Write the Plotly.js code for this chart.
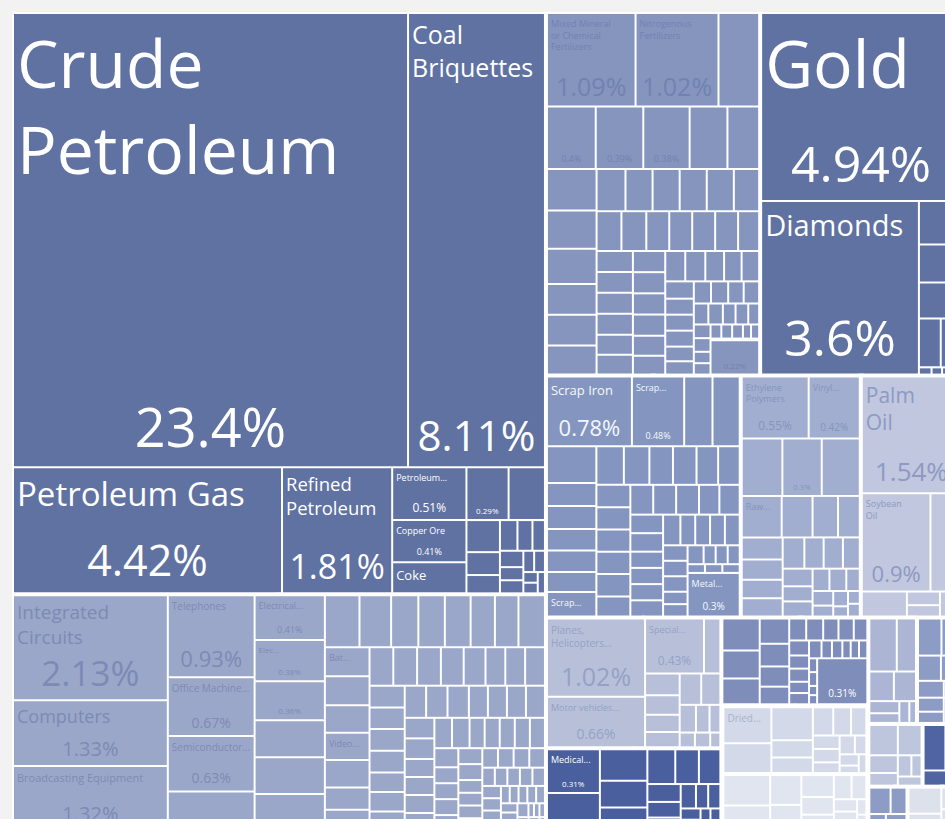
<!DOCTYPE html>
<html>
<head>
<meta charset="utf-8">
<script src="https://cdn.plot.ly/plotly-3.0.1.min.js"></script>
<style>
html,body{margin:0;padding:0;background:#f2f2f2;overflow:hidden;width:945px;height:819px;}
#chart{position:absolute;left:0;top:0;width:962px;height:832px;}
</style>
</head>
<body>
<div id="chart"></div>
<script>
// ---------- DATA (share of exports, %) ----------
const mineralLabels = {0:"Crude<br>Petroleum",1:"Coal<br>Briquettes",2:"Petroleum Gas",3:"Refined<br>Petroleum",4:"Petroleum...",5:"Copper Ore",6:"Coke"};
const mineralValues = [23.4, 8.11, 4.42, 1.81, 0.51, 0.41, 0.3, 0.29, 0.25, 0.14, 0.1, 0.08, 0.07, 0.06, 0.05, 0.05, 0.04, 0.04, 0.03, 0.03, 0.02, 0.02, 0.02];
const mineralPct = [0,1,2,3,4,5,7];

const machinesLabels = {0:"Integrated<br>Circuits",1:"Computers",2:"Broadcasting Equipment",3:"Telephones",4:"Office Machine...",5:"Semiconductor...",7:"Electrical...",8:"Elec...",21:"Bat...",24:"Video..."};
const machinesValues = [2.13, 1.33, 1.32, 0.93, 0.67, 0.63, 0.45, 0.41, 0.38, 0.36, 0.34, 0.34, 0.34,
  0.235, 0.215, 0.185, 0.18, 0.175, 0.165, 0.16, 0.18, 0.17, 0.17, 0.16, 0.16, 0.16,
  0.13, 0.125, 0.12, 0.12, 0.12, 0.115, 0.11,
  0.1, 0.1, 0.1, 0.1, 0.1, 0.1, 0.1, 0.09, 0.09, 0.09, 0.09, 0.09, 0.09,
  0.08, 0.08, 0.08, 0.08, 0.08, 0.08, 0.07, 0.07, 0.07, 0.07, 0.07, 0.07,
  0.06, 0.06, 0.06, 0.06, 0.06, 0.06, 0.05, 0.05, 0.05, 0.05, 0.05, 0.05,
  0.04, 0.04, 0.04, 0.04, 0.04, 0.04, 0.04, 0.04, 0.03, 0.03, 0.03, 0.03, 0.03, 0.03, 0.03, 0.03,
  0.02, 0.02, 0.02, 0.02, 0.02, 0.02, 0.02, 0.02, 0.02, 0.02, 0.01, 0.01, 0.01, 0.01, 0.01, 0.01, 0.01, 0.01];
const machinesPct = [0,1,2,3,4,5,7,8,9];

const chemicalsLabels = {0:"Mixed Mineral<br>or Chemical<br>Fertilizers",1:"Nitrogenous<br>Fertilizers"};
const chemicalsValues = [1.09, 1.02, 0.5, 0.4, 0.39, 0.38, 0.31, 0.26,
  0.27, 0.25, 0.23, 0.2, 0.2, 0.19, 0.16, 0.15, 0.15, 0.15, 0.15, 0.14,
  0.13, 0.13, 0.12, 0.12, 0.12, 0.12, 0.11, 0.1, 0.1, 0.1, 0.1, 0.095, 0.095, 0.09, 0.09, 0.09, 0.09, 0.085,
  0.08, 0.08, 0.08, 0.075, 0.07, 0.07, 0.065, 0.06, 0.06, 0.06, 0.055, 0.05, 0.05, 0.05,
  0.045, 0.045, 0.04, 0.04, 0.035, 0.035, 0.03, 0.03, 0.03, 0.025, 0.025, 0.02, 0.02, 0.02, 0.015, 0.015, 0.01, 0.22];
const chemicalsPct = [0,1,3,4,5,69];

const preciousLabels = {0:"Gold",1:"Diamonds"};
const preciousValues = [4.94, 3.6, 0.24, 0.21, 0.2, 0.14, 0.13, 0.012, 0.01, 0.01, 0.008];
const preciousPct = [0,1];

const metalsLabels = {0:"Scrap Iron",1:"Scrap...",10:"Scrap...",51:"Metal..."};
const metalsValues = [0.78, 0.48, 0.26, 0.25, 0.24, 0.15, 0.15, 0.14, 0.14, 0.13, 0.16, 0.14, 0.13, 0.12, 0.12, 0.11, 0.11,
  0.1, 0.1, 0.1, 0.1, 0.1, 0.09, 0.09, 0.09, 0.09, 0.08, 0.08, 0.08, 0.08, 0.07, 0.07, 0.07, 0.07, 0.07,
  0.06, 0.06, 0.06, 0.06, 0.05, 0.05, 0.05, 0.04, 0.04, 0.04, 0.03, 0.03, 0.03, 0.02, 0.02, 0.02, 0.3];
const metalsPct = [0,1,51];

const plasticsLabels = {0:"Ethylene<br>Polymers",1:"Vinyl...",5:"Raw..."};
const plasticsValues = [0.55, 0.42, 0.31, 0.3, 0.29, 0.22, 0.17, 0.14, 0.12, 0.12, 0.11, 0.1, 0.1, 0.09, 0.08, 0.08, 0.07, 0.07, 0.06, 0.06, 0.05, 0.05, 0.04, 0.04, 0.03, 0.03, 0.02, 0.02, 0.02];
const plasticsPct = [0,1,3];

const oilsLabels = {0:"Palm<br>Oil",1:"Soybean<br>Oil"};
const oilsValues = [1.54, 0.9, 0.4, 0.15, 0.06, 0.05, 0.04, 0.03];
const oilsPct = [0,1];

const transportLabels = {0:"Planes,<br>Helicopters...",1:"Motor vehicles...",2:"Special..."};
const transportValues = [1.02, 0.66, 0.43, 0.12, 0.1, 0.09, 0.08, 0.07, 0.09, 0.08, 0.06, 0.05, 0.04, 0.03, 0.03, 0.02];
const transportPct = [0,1,2];

const instrumentsLabels = {0:"Medical..."};
const instrumentsValues = [0.31, 0.27, 0.2, 0.17, 0.15, 0.13, 0.11, 0.1, 0.08, 0.07, 0.06, 0.05, 0.04, 0.04, 0.03, 0.03, 0.02, 0.02, 0.02];
const instrumentsPct = [0];

const textilesLabels = {};
const textilesValues = [0.16, 0.14, 0.13, 0.1, 0.09, 0.08, 0.07, 0.05, 0.05, 0.045, 0.045, 0.04, 0.04, 0.035, 0.035, 0.03, 0.03, 0.03, 0.025, 0.025, 0.02, 0.02, 0.02, 0.015, 0.015, 0.01, 0.01, 0.31];
const textilesPct = [27];

const vegALabels = {0:"Dried..."};
const vegAValues = [0.24, 0.2, 0.19, 0.1, 0.09, 0.08, 0.07, 0.06, 0.05, 0.05, 0.04, 0.04, 0.03, 0.03, 0.02, 0.02];
const vegBValues = [0.2, 0.16, 0.13, 0.11, 0.1, 0.08, 0.07, 0.06, 0.05, 0.04, 0.03, 0.03, 0.02, 0.02];

const otherAValues = [0.2, 0.14, 0.1, 0.09, 0.05, 0.04, 0.03, 0.02];
const otherBValues = [0.12, 0.1, 0.08, 0.07, 0.06, 0.05, 0.04, 0.04, 0.03, 0.03];
const otherCValues = [0.12, 0.1, 0.07, 0.05, 0.04, 0.03, 0.03];
const otherDValues = [0.14, 0.1, 0.05, 0.03];
const otherEValues = [0.08, 0.06, 0.04, 0.03, 0.02];
const otherFValues = [0.12, 0.08, 0.06, 0.04, 0.02];

// ---------- STYLE ----------
const labelFont = {
  mineral:{0:66,1:25,2:33,3:18.5,4:9,5:9,6:13},
  machines:{0:19,1:18,2:11,3:10,4:10,5:10,7:9,8:8,21:9,24:9},
  chemicals:{0:9,1:9}, precious:{0:66,1:29}, metals:{0:13,1:9,10:9,51:9},
  plastics:{0:9,1:9,5:9}, oils:{0:21,1:9}, transport:{0:10,1:9,2:9},
  instruments:{0:9}, vegA:{0:10}
};
const pctFont = {
  mineral:{0:54,1:42,2:43,3:34,4:12,5:9,7:8},
  machines:{0:35,1:20,2:20,3:22,4:14,5:14,7:9,8:8,9:8},
  chemicals:{0:25,1:25,3:9,4:9,5:9,69:8}, precious:{0:50,1:50}, metals:{0:22,1:9,51:10},
  plastics:{0:12,1:10,3:8}, oils:{0:26,1:22}, transport:{0:25,1:14,2:12},
  instruments:{0:8}, textiles:{27:10}
};

const groups = [
  {key:'mineral', id:'Mineral Products', labels:mineralLabels, values:mineralValues, pct:mineralPct, color:'#5f72a2', text:'#ffffff'},
  {key:'machines', id:'Machines', labels:machinesLabels, values:machinesValues, pct:machinesPct, color:'#9ba7c9', text:'#7d8ab5'},
  {key:'chemicals', id:'Chemical Products', labels:chemicalsLabels, values:chemicalsValues, pct:chemicalsPct, color:'#8595be', text:'#7182b2'},
  {key:'precious', id:'Precious Metals', labels:preciousLabels, values:preciousValues, pct:preciousPct, color:'#5f72a2', text:'#ffffff'},
  {key:'metals', id:'Metals', labels:metalsLabels, values:metalsValues, pct:metalsPct, color:'#8496c0', text:'#f4f6fb'},
  {key:'plastics', id:'Plastics and Rubbers', labels:plasticsLabels, values:plasticsValues, pct:plasticsPct, color:'#a2aecf', text:'#8593be'},
  {key:'oils', id:'Animal and Vegetable Bi-Products', labels:oilsLabels, values:oilsValues, pct:oilsPct, color:'#c0c7de', text:'#8d9ac3'},
  {key:'transport', id:'Transportation', labels:transportLabels, values:transportValues, pct:transportPct, color:'#b8c0d9', text:'#95a1c6'},
  {key:'instruments', id:'Instruments', labels:instrumentsLabels, values:instrumentsValues, pct:instrumentsPct, color:'#4a5f9e', text:'#ffffff'},
  {key:'textiles', id:'Textiles', labels:textilesLabels, values:textilesValues, pct:textilesPct, color:'#7e8db9', text:'#ffffff'},
  {key:'veg', id:'Vegetable Products'},
  {key:'vegA', id:'Vegetable Products A', parent:'Vegetable Products', labels:vegALabels, values:vegAValues, pct:[], color:'#d3d9e8', text:'#a9b2cf'},
  {key:'vegB', id:'Vegetable Products B', parent:'Vegetable Products', labels:{}, values:vegBValues, pct:[], color:'#e1e5ef', text:'#a9b2cf'},
  {key:'oA', id:'Other group 1', labels:{}, values:otherAValues, pct:[], color:'#acb6d4', text:'#ffffff'},
  {key:'oB', id:'Other group 2', labels:{}, values:otherBValues, pct:[], color:'#8d9cc4', text:'#ffffff'},
  {key:'oC', id:'Other group 3', labels:{}, values:otherCValues, pct:[], color:'#bec6de', text:'#ffffff'},
  {key:'oD', id:'Other group 4', labels:{}, values:otherDValues, pct:[], color:'#4f64a0', text:'#ffffff'},
  {key:'oE', id:'Other group 5', labels:{}, values:otherEValues, pct:[], color:'#8d9cc4', text:'#ffffff'},
  {key:'oF', id:'Other group 6', labels:{}, values:otherFValues, pct:[], color:'#dde1ec', text:'#ffffff'}
];

// ---------- BUILD ----------
const ids=[], names=[], parents=[], vals=[], colors=[], lblText=[], pctText=[], lblSize=[], pctSize=[], fontCol=[];
function add(id, name, parent, v, col, lt, pt, ls, ps, fc){
  ids.push(id); names.push(name); parents.push(parent); vals.push(v); colors.push(col);
  lblText.push(lt); pctText.push(pt); lblSize.push(ls); pctSize.push(ps); fontCol.push(fc);
}
add('root','Exports','',0,'#ffffff','','',10,10,'#ffffff');
groups.forEach(g=>{
  add(g.id, g.id, g.parent || 'root', 0, '#ffffff', '', '', 10, 10, '#ffffff');
  if(!g.values) return;
  const lf = labelFont[g.key] || {}, pf = pctFont[g.key] || {};
  g.values.forEach((v,i)=>{
    const lbl = g.labels[i] || '';
    const showPct = g.pct.indexOf(i) >= 0;
    add(g.id+' #'+(i+1), lbl ? lbl.replace(/<br>/g,' ') : g.id+' item '+(i+1), g.id, v, g.color,
        lbl, showPct ? v+'%' : '', lf[i] || 9, pf[i] || 9, g.text);
  });
});

const common = {
  type:'treemap', ids:ids, labels:names, parents:parents, values:vals,
  branchvalues:'remainder', sort:false, textinfo:'text',
  tiling:{packing:'squarify', squarifyratio:1.618, pad:2},
  pathbar:{visible:false}
};
const t1 = Object.assign({}, common, {
  text:lblText, textposition:'top left',
  textfont:{family:'Open Sans, sans-serif', size:lblSize, color:fontCol},
  marker:{colors:colors, line:{color:'#ffffff', width:0}, pad:{t:1,l:1,r:1,b:1}},
  hoverinfo:'label+value'
});
const t2 = Object.assign({}, common, {
  text:pctText, textposition:'bottom center',
  textfont:{family:'Open Sans, sans-serif', size:pctSize, color:fontCol},
  marker:{colors:ids.map(()=> 'rgba(0,0,0,0)'), line:{color:'rgba(0,0,0,0)', width:0}, pad:{t:1,l:1,r:1,b:1}},
  hoverinfo:'skip'
});

Plotly.newPlot('chart', [t1, t2], {
  width:962, height:832,
  margin:{l:12, t:12, r:0, b:0},
  paper_bgcolor:'#f2f2f2',
  showlegend:false
}, {displayModeBar:false, staticPlot:true});
</script>
</body>
</html>
